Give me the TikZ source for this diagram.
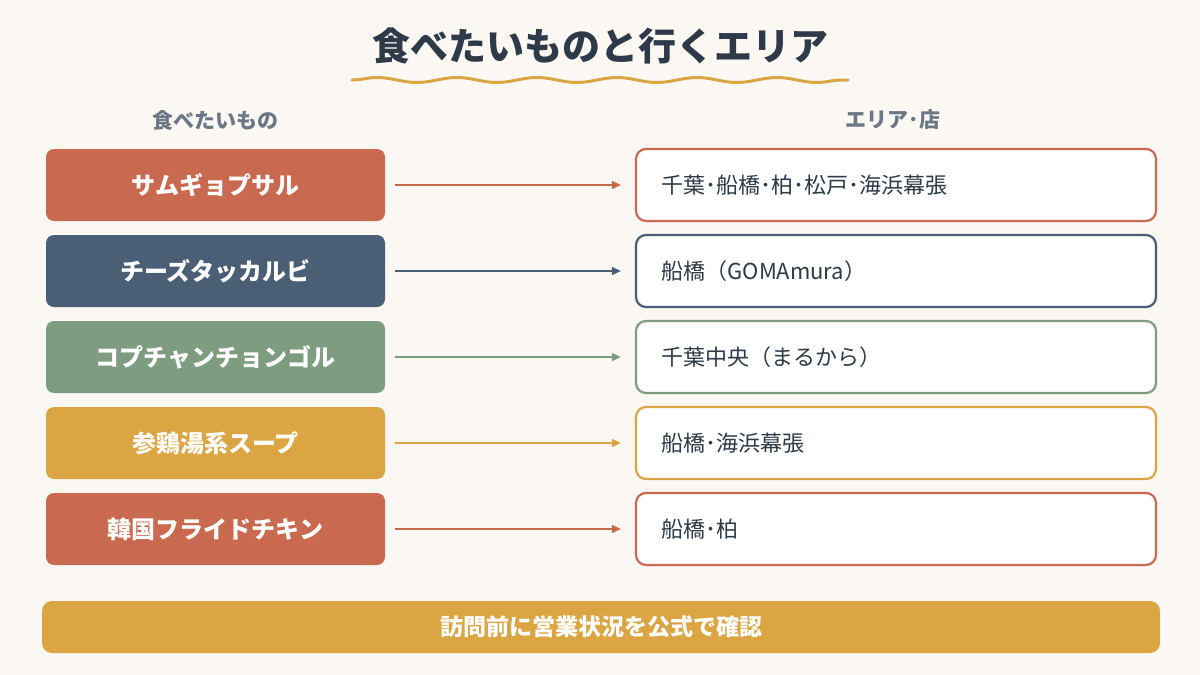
\documentclass[tikz,border=0pt]{standalone}
\usepackage{fontspec}
\setmainfont{Noto Sans CJK JP}
\usetikzlibrary{decorations.pathmorphing,arrows.meta}
\definecolor{bg}{HTML}{FBF7F3}
\definecolor{terra}{HTML}{C96A50}
\definecolor{slate}{HTML}{4A5E75}
\definecolor{sage}{HTML}{7D9C80}
\definecolor{mustard}{HTML}{DBA543}
\definecolor{ink}{HTML}{2E3A48}
\definecolor{grey}{HTML}{6B7785}
\tikzset{
 food/.style={rectangle,rounded corners=8pt,minimum width=339pt,minimum height=72pt,fill=#1,text=white,font=\fontsize{24}{28}\selectfont\bfseries,inner sep=0pt},
 area/.style={rectangle,rounded corners=10pt,minimum width=520pt,minimum height=72pt,fill=white,draw=#1,line width=2.2pt,inner sep=0pt},
 atext/.style={anchor=west,text=ink,font=\fontsize{22}{26}\selectfont},
 arr/.style={draw=#1,line width=1.6pt,-{Triangle[length=9pt,width=8pt]}},
 hdr/.style={text=grey,font=\fontsize{21}{25}\selectfont\bfseries}
}
\begin{document}
\begin{tikzpicture}[x=1pt,y=-1pt]
\fill[bg] (0,0) rectangle (1200,675);
\useasboundingbox (0,0) rectangle (1200,675);
\node[text=ink,font=\fontsize{38}{44}\selectfont\bfseries] (title) at (600,46) {食べたいものと行くエリア};
\draw[mustard,line width=3pt,line cap=round,decorate,decoration={snake,amplitude=2.5pt,segment length=80pt}] (352,80) -- (848,80);
\node[hdr] (h1) at (215,120) {食べたいもの};
\node[hdr] (h2) at (893,120) {エリア･店};
\foreach \i/\c/\f/\a [count=\n] in {185/terra/サムギョプサル/千葉･船橋･柏･松戸･海浜幕張,271/slate/チーズタッカルビ/船橋（GOMAmura）,357/sage/コプチャンチョンゴル/千葉中央（まるから）,443/mustard/参鶏湯系スープ/船橋･海浜幕張,529/terra/韓国フライドチキン/船橋･柏}{
 \node[food=\c] (f\n) at (215.5,\i) {\f};
 \node[area=\c] (a\n) at (896,\i) {};
 \node[atext] (t\n) at (658,\i) {\a};
 \path (f\n.east) ++(10,0) coordinate (s\n);
 \coordinate (e\n) at ([xshift=-14pt]a\n.west);
 \draw[arr=\c] (s\n) -- (e\n);
}
\node[rectangle,rounded corners=10pt,minimum width=1118pt,minimum height=52pt,fill=mustard,text=white,font=\fontsize{23}{27}\selectfont\bfseries] (note) at (601,627) {訪問前に営業状況を公式で確認};
\end{tikzpicture}
\end{document}
